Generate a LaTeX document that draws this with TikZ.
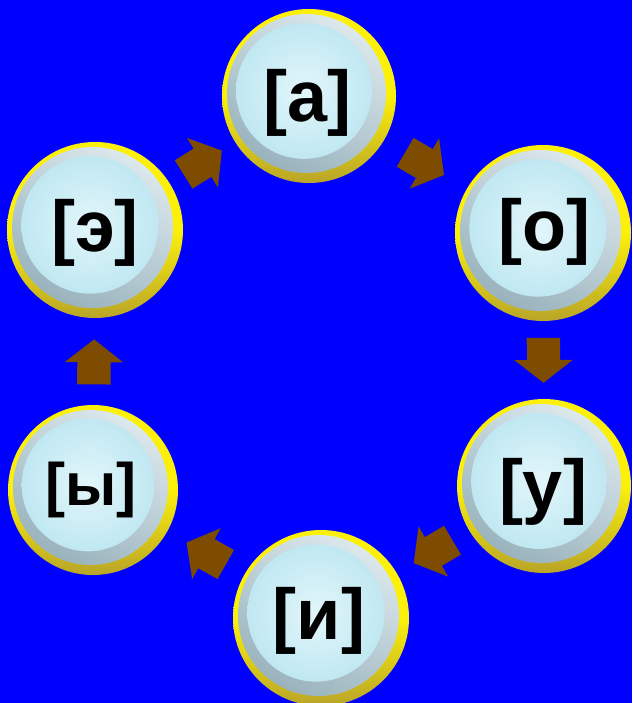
\documentclass[tikz,border=0pt]{standalone}
\usepackage{fontspec}
\setmainfont{Liberation Sans}
\usetikzlibrary{shapes.arrows,calc}
\definecolor{bgblue}{RGB}{0,0,255}
\definecolor{rimyellow}{RGB}{252,240,10}
\definecolor{rimdark}{RGB}{185,165,40}
\definecolor{ringlight}{RGB}{222,234,238}
\definecolor{ringdark}{RGB}{150,176,186}
\definecolor{icelight}{RGB}{226,246,250}
\definecolor{iceblue}{RGB}{192,232,242}
\definecolor{arrowbrown}{RGB}{125,76,0}
\tikzset{
  x=1pt, y=-1pt,
  coin/.style={circle, minimum size={2*#1*1pt}, inner sep=0pt, draw=none,
    shade, shading angle=225, top color=rimyellow, bottom color=rimdark,
    middle color=rimyellow,
    path picture={
      \shade[top color=ringlight, bottom color=ringdark, shading angle=-30]
        ($(path picture bounding box.center)+(-2.5pt,2.5pt)$) circle [radius={(#1-7.5)*1pt}];
      \shade[inner color=icelight, outer color=iceblue]
        ($(path picture bounding box.center)+(-5pt,5pt)$) circle [radius={(0.78*#1)*1pt}];
    }},
  letter/.style={inner sep=0pt, font=\bfseries\fontsize{72}{80}\selectfont},
  smallletter/.style={inner sep=0pt, font=\bfseries\fontsize{60}{68}\selectfont},
  barrow/.style={single arrow, fill=arrowbrown, draw=none, inner xsep=0pt,
    inner ysep=16.5pt, minimum height=45pt, single arrow head extend=12.5pt,
    single arrow tip angle=104, pos=0.42, sloped, allow upside down}
}
\begin{document}
\begin{tikzpicture}
\clip (0,0) rectangle (632,703);
\fill[bgblue] (0,0) rectangle (632,703);
\node[coin=87] (a) at (309,96) {};
\node[coin=88] (o) at (543,233) {};
\node[coin=87] (u) at (544,486) {};
\node[coin=88] (i) at (321,618) {};
\node[coin=85] (y) at (93,490) {};
\node[coin=88] (e) at (95,230) {};
\node[letter] (ta) at (307.5,102.5) {[а]};
\node[letter] (to) at (544,231.5) {[о]};
\node[letter] (tu) at (543,491.5) {[у]};
\node[letter] (ti) at (319,620.5) {[и]};
\node[smallletter] (ty) at (91,490) {[ы]};
\node[letter] (te) at (95,232.5) {[э]};
\path (e) -- (a) node[barrow] (ea) {};
\path (a) -- (o) node[barrow] (ao) {};
\path (o) -- (u) node[barrow] (ou) {};
\path (u) -- (i) node[barrow] (ui) {};
\path (i) -- (y) node[barrow] (iy) {};
\path (y) -- (e) node[barrow] (ye) {};
\end{tikzpicture}
\end{document}
